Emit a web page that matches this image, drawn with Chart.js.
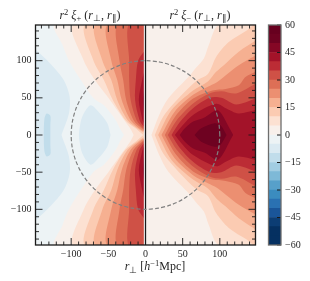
<!DOCTYPE html>
<html><head><meta charset="utf-8">
<script src="https://cdn.jsdelivr.net/npm/chart.js@4"></script>
<style>html,body{margin:0;padding:0;background:#fff;overflow:hidden}
canvas{position:absolute;top:0;display:block}</style></head>
<body>
<canvas id="main" width="262" height="281" style="left:0;width:262px;height:281px"></canvas>
<canvas id="bar" width="48" height="281" style="left:262px;width:48px;height:281px"></canvas>
<script>
const majorTicks = [-100, -50, 0, 50, 100];
const minorTicks = [-140,-130,-120,-110,-90,-80,-70,-60,-40,-30,-20,-10,10,20,30,40,60,70,80,90,110,120,130,140];
const colorbarTicks = [-60,-45,-30,-15,0,15,30,45,60];
const levels = [-60,-55,-50,-45,-40,-35,-30,-25,-20,-15,-10,-5,0,5,10,15,20,25,30,35,40,45,50,55,60];
const bandColors = ['#053061','#053061','#0c3d74','#1a5599','#2a71b2','#3b8cbf','#57a0ca','#7eb9d7','#a2cde2','#c1ddeb','#dbeaf2','#edf3f5',
  '#f8f0eb','#fce1d2','#fbcbb2','#f6b091','#ec8f71','#dd6f56','#cf5146','#bc2c35','#a31329','#850725','#6e0221','#67001f'];
function bandColor(level){ return bandColors[levels.indexOf(level)]; }
const L = -2.2, R = 1, E = 148;

// contours of the left panel (upper half, mirrored in y)
const leftBase = [[L,E],[-E,E]];
const leftM10 = [[-E,115],[-128,96],[-110,74],[-102,51],[-103,29],[-112,3],[-113,0]];
const leftM10Inner = [[-89.6,0],[-89,7],[-85,25],[-74,40],[-63,31],[-51.5,16],[-47,0]];
const leftM15 = [[-128,0],[-128,14],[-128,26],[-133,29],[-136,22],[-137,0]];
const left0 = [[L,E],[-122,E],[-112,122],[-103,100],[-87,74],[-69.5,49],[-56,40],[-40,20],[-34,8],[-29,0]];
const left5 = [[L,E],[-97,E],[-83,100],[-68,74],[-50,50],[-30,22],[-20,8],[-16,0]];
const left10 = [[L,E],[-81,E],[-70,100],[-56,74],[-44,47],[-27,20],[-12,8],[-3,0]];
const left15 = [[L,E],[-67.5,E],[-58,100],[-46,74],[-38,47],[-24,20],[-8,7],[L,3]];
const left20 = [[L,E],[-51.5,E],[-46,100],[-38,74],[-32,47],[-20,20],[-6,7],[L,5]];
const left25 = [[L,E],[-38,E],[-35,100],[-30,74],[-26,47],[-16,20],[-4,8],[L,6]];
const left30 = [[L,E],[-23,E],[-22,100],[-22,74],[-20,47],[-12,20],[L,8]];
const left35 = [[L,112],[-10,100],[-13,74],[-14,47],[-8,20],[L,11]];
const left40 = [[L,84],[-4.5,74],[-9,47],[-4,20],[L,15]];
const left45 = [[L,60],[-3.6,47],[L,29]];

// contours of the right panel (upper half, mirrored in y)
const rightBase = [[R,E],[E,E]];
const right5 = [[E,E],[98.6,E],[85,120.8],[78.5,103],[67,89.5],[59.6,80],[30.5,49],[18.4,27],[8,0]];
const right10 = [[E,E],[145,E],[136.7,141],[112,125],[95,105],[84,82],[68.6,73],[46,51],[23.7,24.6],[12.5,0]];
const right15 = [[E,127],[125.5,112],[107.6,96],[95,85],[84,72],[64,60],[35,33.6],[17,0]];
const right20 = [[E,107],[125.5,94],[107.6,80],[96,71],[84,65],[64,54],[39,31],[21.5,0]];
const right25 = [[E,85],[134.5,78],[125.5,67],[108,62],[90,60],[64,49],[40,25],[26,0]];
const right30 = [[E,69],[122,56],[102,59],[86,56],[64,42.5],[42,20],[30,0]];
const right35 = [[E,49],[122,41],[102,50],[86.5,50],[64,36],[46,17],[35,0]];
const right40 = [[E,33.5],[125,29],[108,36],[95,42],[64,27],[50,13],[39.5,0]];
const right45 = [[118,0],[113,9],[104,26],[98,33],[92,32],[80,24],[64,18],[52,8],[46,0]];
const right50 = [[109,0],[101,13],[93,15.7],[75,9],[66,0]];

const centerLine = [[0,-E],[0,E]];
const gapLine = [[-1.2,-E],[-1.2,E]];
const circleQuarter = [[100,0],[98.5,17.4],[94,34.2],[86.6,50],[76.6,64.3],[64.3,76.6],[50,86.6],[34.2,94],[17.4,98.5],[0,100]];

function toPts(a){ return a.map(p=>({x:p[0],y:p[1]})); }
function mirrored(a){ return toPts(a.concat(a.slice().reverse().map(p=>[p[0],-p[1]]))); }
const datasets = [];
function poly(data, level){
  datasets.push({data, showLine:true, fill:'shape', backgroundColor:bandColor(level), borderColor:bandColor(level),
    borderWidth:0, pointRadius:0, tension:0.3});
}
function both(a, level){ poly(mirrored(a), level); }
function lobes(a, level){ poly(toPts(a), level); poly(toPts(a.map(p=>[p[0],-p[1]])), level); }

both(leftBase,-5); both(leftM10,-10); both(leftM10Inner,-10); both(leftM15,-15);
both(left0,0); both(left5,5); both(left10,10);
lobes(left15,15); lobes(left20,20); lobes(left25,25); lobes(left30,30); lobes(left35,35); lobes(left40,40); lobes(left45,45);
both(rightBase,0); both(right5,5); both(right10,10); both(right15,15); both(right20,20); both(right25,25);
both(right30,30); both(right35,35); both(right40,40); both(right45,45); both(right50,50);

function lineSet(data,color,w,dash){ datasets.push({data,showLine:true,fill:false,borderColor:color,borderWidth:w,borderDash:dash||[],pointRadius:0,tension:dash?0.3:0}); }
lineSet(toPts(gapLine),'#ffffff',1.5);
lineSet(toPts(centerLine),'#1a1a1a',1.3);
const circleUpper = circleQuarter.concat(circleQuarter.slice(0,-1).reverse().map(p=>[-p[0],p[1]]));
const circleAll = circleUpper.concat(circleUpper.slice(0,-1).reverse().map(p=>[p[0],-p[1]]));
lineSet(toPts(circleAll),'#808080',1.2,[4,2.2]);
datasets.forEach((d,i)=>{ d.order = 1000-i; });

const serif = '"Liberation Serif", serif';
function runs(ctx, cx, base, parts){
  ctx.textAlign='left'; ctx.textBaseline='alphabetic'; ctx.fillStyle='#262626';
  let w=0; parts.forEach(p=>{ctx.font=p[1]; w+=ctx.measureText(p[0]).width;});
  let x=cx-w/2;
  parts.forEach(p=>{ctx.font=p[1]; ctx.fillText(p[0],x,base+(p[2]||0)); x+=ctx.measureText(p[0]).width;});
}
const it='italic 12px '+serif, up='12px '+serif, sm='8.5px '+serif;
function titleRuns(sign){ return [['r',it],['2',sm,-4],[' ',up],['ξ',it],[sign,sm,2.5],[' (',up],['r',it],['⊥',sm,2.5],[', ',up],['r',it],['∥',sm,2.5],[')',up]]; }

const framePlugin = { id:'frame', afterDraw(chart){
  const c=chart.ctx, a=chart.chartArea, xs=chart.scales.x, ys=chart.scales.y;
  c.save(); c.strokeStyle='#1a1a1a'; c.lineWidth=0.9;
  function tick(v,len){
    const px=xs.getPixelForValue(v), py=ys.getPixelForValue(v);
    c.beginPath();
    c.moveTo(px,a.top); c.lineTo(px,a.top+len);
    c.moveTo(px,a.bottom); c.lineTo(px,a.bottom-len);
    c.moveTo(a.left,py); c.lineTo(a.left+len,py);
    c.moveTo(a.right,py); c.lineTo(a.right-len,py);
    c.stroke();
  }
  minorTicks.forEach(v=>tick(v,3.5)); majorTicks.forEach(v=>tick(v,7));
  c.lineWidth=1.3; c.strokeRect(a.left,a.top,a.right-a.left,a.bottom-a.top);
  runs(c,90,18.5,titleRuns('+'));
  runs(c,200,18.5,titleRuns('−'));
  runs(c,155,270,[['r',it],['⊥',sm,2.5],[' [',up],['h',it],['−1',sm,-4],['Mpc]',up]]);
  c.restore();
}};
const fmt = v => String(v).replace('-','−');
const tickFont = {family:serif,size:10};
new Chart(document.getElementById('main'),{
  type:'scatter',
  data:{datasets},
  plugins:[framePlugin],
  options:{responsive:false,animation:false,events:[],
    layout:{padding:{left:0,right:6.5,top:25,bottom:0}},
    plugins:{legend:{display:false},tooltip:{enabled:false},title:{display:false}},
    scales:{
      x:{type:'linear',min:-E,max:E,grid:{display:false,drawTicks:false},border:{display:false},
        afterBuildTicks(s){s.ticks=majorTicks.map(value=>({value}));},
        afterFit(s){s.height=36;},
        ticks:{color:'#262626',font:tickFont,padding:3,maxRotation:0,autoSkip:false,callback:fmt}},
      y:{type:'linear',min:-E,max:E,grid:{display:false,drawTicks:false},border:{display:false},
        afterBuildTicks(s){s.ticks=majorTicks.map(value=>({value}));},
        afterFit(s){s.width=35.5;},
        ticks:{color:'#262626',font:tickFont,padding:4,autoSkip:false,callback:fmt}}
    }}
});

const barFrame = { id:'barFrame', afterDraw(chart){
  const c=chart.ctx,a=chart.chartArea,ys=chart.scales.y;
  c.save(); c.strokeStyle='#1a1a1a'; c.lineWidth=1;
  colorbarTicks.forEach(v=>{const p=ys.getPixelForValue(v); c.beginPath(); c.moveTo(a.right,p); c.lineTo(a.right-4,p); c.stroke();});
  c.strokeStyle='#6e6e6e'; c.lineWidth=1.3; c.strokeRect(a.left,a.top,a.right-a.left,a.bottom-a.top);
  c.restore();
}};
new Chart(document.getElementById('bar'),{
  type:'bar',
  data:{labels:['c'],datasets:bandColors.map((col,i)=>({data:[[levels[i],levels[i+1]]],backgroundColor:col,borderWidth:0,grouped:false,barPercentage:1,categoryPercentage:1}))},
  plugins:[barFrame],
  options:{responsive:false,animation:false,events:[],
    layout:{padding:{left:6.5,right:0,top:25,bottom:36}},
    plugins:{legend:{display:false},tooltip:{enabled:false}},
    scales:{
      x:{display:false},
      y:{position:'right',min:-60,max:60,grid:{display:false,drawTicks:false},border:{display:false},
        afterBuildTicks(s){s.ticks=colorbarTicks.map(value=>({value}));},
        afterFit(s){s.width=29;},
        ticks:{color:'#262626',font:tickFont,padding:4,autoSkip:false,callback:fmt}}
    }}
});
</script>
</body></html>
